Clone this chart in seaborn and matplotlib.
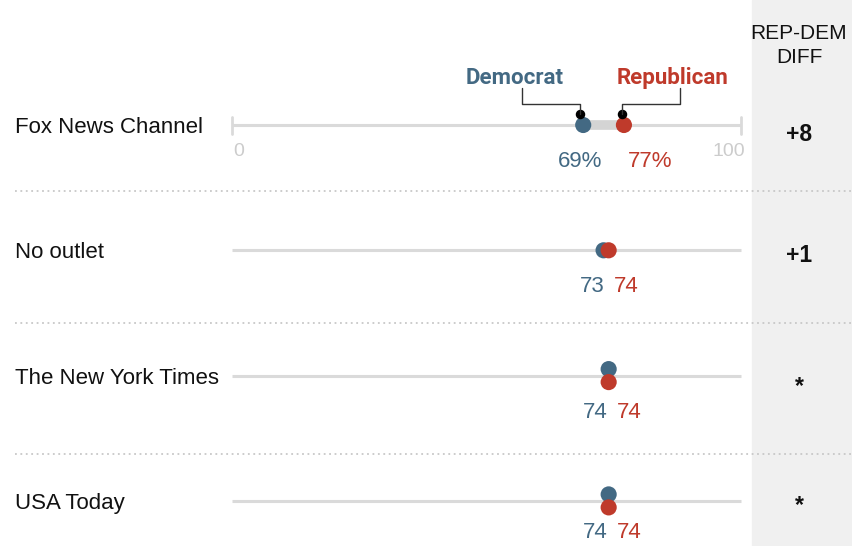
import numpy as np
import pandas as pd
import matplotlib.pyplot as plt
import seaborn as sns

# Data
outlets = ['Fox News Channel', 'No outlet', 'The New York Times', 'USA Today']
democrat = [69, 73, 74, 74]
republican = [77, 74, 74, 74]
diff_labels = ['+8', '+1', '*', '*']

DEM_COLOR = '#436983'
REP_COLOR = '#bf3a2b'
LINE_GREY = '#dadada'

sns.set_theme(style='white')
plt.rcParams['font.family'] = ['Liberation Sans', 'DejaVu Sans']

W, H = 852, 546
X0, X100 = 232, 741            # pixel positions of 0 and 100
PPU = (X100 - X0) / 100.0      # pixels per percent
ROW0, ROWSTEP = 125, 125.3     # pixel y of first row, row spacing


def px_x(p):
    return (p - X0) / PPU


def px_y(p):
    return (p - ROW0) / ROWSTEP


fig = plt.figure(figsize=(W / 100, H / 100), dpi=100)
ax = fig.add_axes([0, 0, 1, 1])
ax.set_xlim(px_x(0), px_x(W))
ax.set_ylim(px_y(H), px_y(0))
ax.axis('off')

# grey diff column
ax.axvspan(px_x(752), px_x(W), color='#f0f0f0', zorder=0)

off = 6.5 / ROWSTEP
records = []
for i, (d, r) in enumerate(zip(democrat, republican)):
    dy = off if d == r else 0
    records.append({'row': i - dy, 'value': d, 'party': 'Democrat'})
    records.append({'row': i + dy, 'value': r, 'party': 'Republican'})
df = pd.DataFrame(records)

diff_base = [16, 12, 17, 11]     # baseline offsets (px) of the diff column
label_base = [42, 42, 42, 37]    # baseline offsets (px) of value labels

for i, name in enumerate(outlets):
    ax.text(px_x(15), i + 8 / ROWSTEP, name, ha='left', va='baseline', fontsize=16,
            color='#111111')
    ax.plot([0, 100], [i, i], color=LINE_GREY, lw=2.2, zorder=1, solid_capstyle='butt')
    ax.text(px_x(799), i + diff_base[i] / ROWSTEP, diff_labels[i], ha='center',
            va='baseline', fontsize=16.5, fontweight='bold', color='#111111')

# ticks and scale labels on first row
for v in [0, 100]:
    ax.plot([v, v], [px_y(117), px_y(134)], color=LINE_GREY, lw=2, zorder=1)
ax.text(px_x(233), px_y(156), '0', ha='left', va='baseline', fontsize=14, color='#cccccc')
ax.text(px_x(745), px_y(156), '100', ha='right', va='baseline', fontsize=14, color='#cccccc')

# gap bar for first row
ax.plot([democrat[0], republican[0]], [0, 0], color='#d4d4d4', lw=7, zorder=2,
        solid_capstyle='butt')

# dots: democrat first, republican on top
sns.scatterplot(data=df[df.party == 'Democrat'], x='value', y='row', color=DEM_COLOR,
                s=135, edgecolor='none', ax=ax, zorder=3, legend=False)
sns.scatterplot(data=df[df.party == 'Republican'], x='value', y='row', color=REP_COLOR,
                s=135, edgecolor='none', ax=ax, zorder=4, legend=False)

# value labels
for i, (d, r) in enumerate(zip(democrat, republican)):
    mid = (d + r) / 2
    suffix = '%' if i == 0 else ''
    gap = 24 if i == 0 else 8
    ly = i + label_base[i] / ROWSTEP
    ax.text(mid - 1 / PPU, ly, f'{d}{suffix}', ha='right', va='baseline', fontsize=16,
            color=DEM_COLOR)
    ax.text(mid + gap / PPU, ly, f'{r}{suffix}', ha='left', va='baseline', fontsize=16,
            color=REP_COLOR)

# dotted separators
for p in [191, 323, 454]:
    ax.plot([px_x(15), px_x(W)], [px_y(p), px_y(p)], color='#c8c8c8', lw=1.3,
            ls=(0, (1, 2)), zorder=1)

# Democrat / Republican callouts
by = px_y(114)
dx, rx = democrat[0] - 0.6, republican[0] - 0.4
ax.scatter([dx, rx], [by, by], s=34, color='black', zorder=5)
ky, ty = px_y(104), px_y(88)
ax.plot([dx, dx, px_x(522), px_x(522)], [by, ky, ky, ty], color='#333333', lw=1, zorder=5)
ax.plot([rx, rx, px_x(680), px_x(680)], [by, ky, ky, ty], color='#333333', lw=1, zorder=5)
call_font = ['Roboto', 'Liberation Sans']
ax.text(px_x(515), px_y(84), 'Democrat', ha='center', va='baseline', fontsize=16,
        fontweight='bold', color=DEM_COLOR, family=call_font)
ax.text(px_x(673), px_y(84), 'Republican', ha='center', va='baseline', fontsize=16,
        fontweight='bold', color=REP_COLOR, family=call_font)

# column header
ax.text(px_x(799), px_y(39), 'REP-DEM', ha='center', va='baseline', fontsize=15,
        color='#111111')
ax.text(px_x(799), px_y(63), 'DIFF', ha='center', va='baseline', fontsize=15,
        color='#111111')

fig.savefig('out.png', dpi=100)
